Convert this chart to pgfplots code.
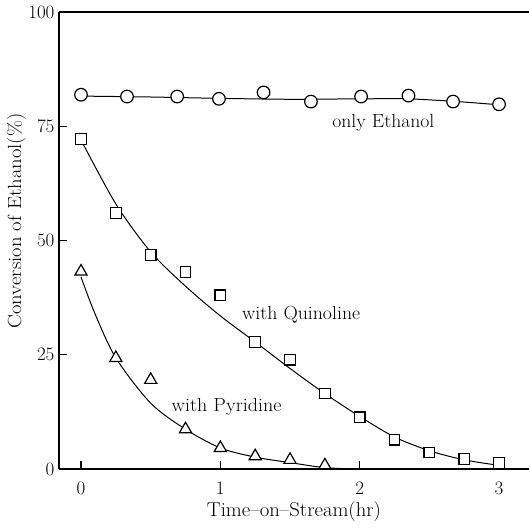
\documentclass[border=0pt]{standalone}
\usepackage{fontspec}
\usepackage{graphicx}
\usepackage{pgfplots}
\pgfplotsset{compat=1.18}
\newcommand{\tl}[1]{{\fontsize{19}{22}\selectfont #1}}
\begin{document}
\begin{tikzpicture}
\begin{axis}[
  scale only axis, width=470pt, height=457pt,
  xmin=-0.158, xmax=3.215, ymin=0, ymax=100,
  xtick={0,1,2,3}, ytick={0,25,50,75,100},
  xticklabels={\tl{0},\tl{1},\tl{2},\tl{3}},
  yticklabels={\tl{0},\tl{25},\tl{50},\tl{75},\tl{100}},
  tick align=inside, xtick pos=left, ytick pos=left,
  major tick length=8pt,
  tick style={line width=1.2pt, black},
  axis line style={draw=none},
  font=\fontsize{19}{22}\selectfont,
  xticklabel style={yshift=-9pt},
  yticklabel style={xshift=-1pt},
  clip marker paths=true,
]
% only ethanol
\addplot[black, line width=1pt, smooth, tension=0.4] coordinates {
(0,81.6)(0.5,81.4)(1,81.1)(1.5,80.9)(2,81.0)(2.35,81.0)(2.7,80.4)(3,79.7)};
\addplot[only marks, mark=*, mark size=6.3pt, mark options={fill=white, draw=black, line width=1.2pt}] coordinates {
(0,81.9)(0.33,81.5)(0.69,81.5)(0.99,81.0)(1.31,82.4)(1.65,80.4)(2.01,81.5)(2.35,81.7)(2.67,80.4)(3.0,79.8)};
% quinoline
\addplot[black, line width=1pt, smooth, tension=0.5] coordinates {
(0,72)(0.25,58)(0.5,47.5)(0.75,40)(1,33.5)(1.25,27.8)(1.5,22)(1.75,16.5)(2,11.5)(2.25,7)(2.5,4)(2.75,2)(3,0.8)};
\addplot[only marks, mark=square*, mark size=5.3pt, mark options={fill=white, draw=black, line width=1.2pt}] coordinates {
(0,72.2)(0.25,56.0)(0.5,46.8)(0.75,43.1)(1.0,38.0)(1.25,27.8)(1.5,23.9)(1.75,16.5)(2.0,11.3)(2.25,6.4)(2.5,3.6)(2.75,2.2)(3.0,1.3)};
% pyridine
\addplot[black, line width=1pt, smooth, tension=0.5] coordinates {
(0,42)(0.1,34)(0.25,24.3)(0.5,14.4)(0.75,8.7)(1.0,4.6)(1.25,2.6)(1.5,1.4)(1.75,0.3)(2.0,0)};
\addplot[only marks, mark=triangle*, mark size=7pt, mark options={fill=white, draw=black, line width=1.2pt}] coordinates {
(0,43.2)(0.25,24.3)(0.5,19.5)(0.75,8.7)(1.0,4.6)(1.25,2.8)(1.5,2.0)(1.75,0.8)(2.0,-0.8)(2.25,-1.3)(2.5,-1.6)};
\node at (axis cs:2.17,75.7) {\resizebox{102pt}{\height}{only Ethanol}};
\node at (axis cs:1.58,33.7) {\resizebox{118pt}{\height}{with Quinoline}};
\node at (axis cs:1.045,13.7) {\resizebox{110pt}{\height}{with Pyridine}};
\end{axis}
\draw[line width=1.3pt] (current axis.north west) -- (current axis.south west);
\draw[line width=2pt] (current axis.south west) -- (current axis.south east);
\draw[line width=1.2pt] (current axis.north west) -- (current axis.north east);
\node[font=\fontsize{20}{23}\selectfont] at ([yshift=-43pt]current axis.south) {\resizebox{174pt}{\height}{Time--on--Stream(hr)}};
\node[rotate=90, font=\fontsize{19}{22}\selectfont] at ([xshift=-42.5pt, yshift=19.5pt]current axis.west) {\resizebox{215pt}{\height}{Conversion of Ethanol(\%)}};
\pgfresetboundingbox
\path ([shift={(-59pt,-62pt)}]current axis.south west) rectangle ([shift={(0pt,12pt)}]current axis.north east);
\end{tikzpicture}
\end{document}
